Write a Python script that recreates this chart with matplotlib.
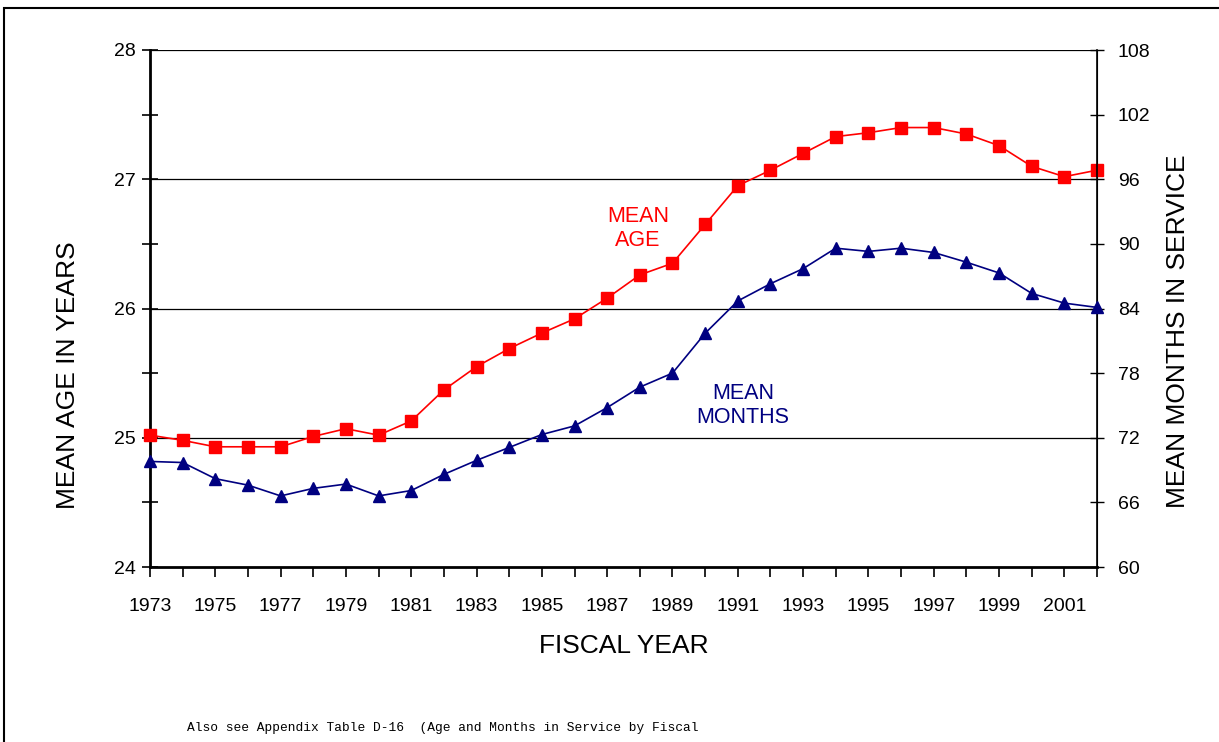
import matplotlib.pyplot as plt
from matplotlib.patches import Rectangle

plt.rcParams['font.family'] = ['Liberation Sans', 'DejaVu Sans']

years = list(range(1973, 2003))
mean_age = [25.02, 24.98, 24.93, 24.93, 24.93, 25.01, 25.07, 25.02, 25.13, 25.37,
            25.55, 25.69, 25.81, 25.92, 26.08, 26.26, 26.35, 26.65, 26.95, 27.07,
            27.20, 27.33, 27.36, 27.40, 27.40, 27.35, 27.26, 27.10, 27.02, 27.07]
mean_months = [69.8, 69.7, 68.2, 67.6, 66.6, 67.3, 67.7, 66.6, 67.1, 68.6,
               69.9, 71.1, 72.3, 73.1, 74.8, 76.7, 78.0, 81.7, 84.7, 86.3,
               87.7, 89.6, 89.3, 89.6, 89.2, 88.3, 87.3, 85.4, 84.5, 84.1]
year_labels = [str(y) if (y - 1973) % 2 == 0 else '' for y in years]

fig = plt.figure(figsize=(12.19, 7.42), dpi=100)
ax = fig.add_axes([150/1219, 1 - 567/742, (1097 - 150)/1219, (567 - 50)/742])
ax2 = ax.twinx()

# outer frame of the original page
fig.patches.append(Rectangle((4/1219, -0.1), 1.2, 1 - 8/742 + 0.1, transform=fig.transFigure,
                             fill=False, edgecolor='black', linewidth=1.5))

for y in [25, 26, 27, 28]:
    ax.axhline(y, color='black', linewidth=0.9, zorder=1)

ax.plot(years, mean_age, color='#ff0000', marker='s', markersize=8, linewidth=1.2, zorder=3, clip_on=False)
ax2.plot(years, mean_months, color='#000080', marker='^', markersize=8, linewidth=1.2, zorder=3, clip_on=False)

ax.set_xlim(1973, 2002)
ax.set_ylim(24, 28)
ax2.set_ylim(60, 108)

ax.set_xticks(years)
ax.set_xticklabels(year_labels)
ax.set_yticks([24, 25, 26, 27, 28])
ax.set_yticks([24.5, 25.5, 26.5, 27.5], minor=True)
ax2.set_yticks(range(60, 109, 6))

ax.tick_params(axis='x', direction='out', length=7, width=1.2, labelsize=14, pad=15)
ax.tick_params(axis='y', which='both', direction='inout', length=12, width=1.2, labelsize=14, pad=4)
ax2.tick_params(axis='y', direction='inout', length=10, width=1, labelsize=14, pad=10)

for a in (ax, ax2):
    a.spines['top'].set_visible(False)
ax.spines['left'].set_linewidth(2)
ax.spines['bottom'].set_linewidth(2)
ax2.spines['left'].set_visible(False)
ax2.spines['bottom'].set_visible(False)
ax2.spines['right'].set_linewidth(1.2)

fig.text(68/1219, 1 - 375/742, 'MEAN AGE IN YEARS', fontsize=19, rotation=90, ha='center', va='center')
fig.text(1178/1219, 1 - 331/742, 'MEAN MONTHS IN SERVICE', fontsize=19, rotation=90, ha='center', va='center')
fig.text(624/1219, 1 - 646/742, 'FISCAL YEAR', fontsize=19, ha='center', va='center')

ax.text(1987.94, 26.62, 'MEAN\nAGE', color='#ff0000', fontsize=15.5, ha='center', va='center', linespacing=1.2)
ax2.text(1991.16, 75.0, 'MEAN\nMONTHS', color='#000080', fontsize=15.5, ha='center', va='center', linespacing=1.2)

fig.text(187/1219, 1 - 731/742, 'Also see Appendix Table D-16  (Age and Months in Service by Fiscal',
         fontsize=9.3, family=['Liberation Mono', 'DejaVu Sans Mono'], va='baseline')

fig.savefig('out.png', dpi=100)
